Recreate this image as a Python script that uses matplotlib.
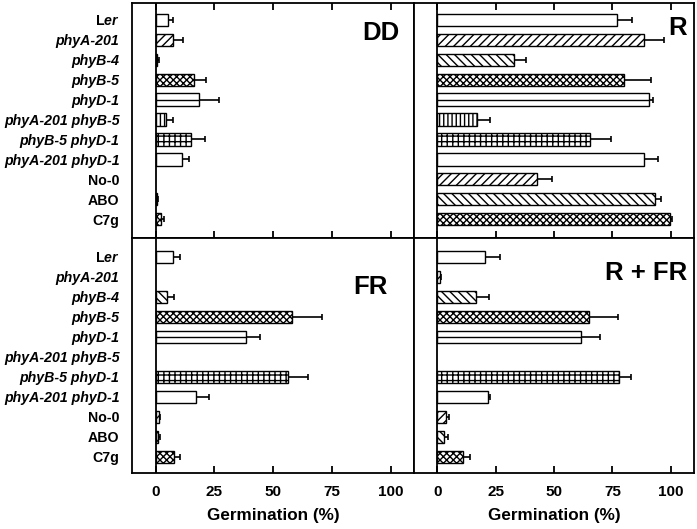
import numpy as np
import matplotlib
matplotlib.use('Agg')
import matplotlib.pyplot as plt

# ----------------------------------------------------------
# Data (germination %)
# ----------------------------------------------------------
genotypes = ['Ler', 'phyA-201', 'phyB-4', 'phyB-5', 'phyD-1',
             'phyA-201 phyB-5', 'phyB-5 phyD-1', 'phyA-201 phyD-1',
             'No-0', 'ABO', 'C7g']

nan = np.nan

dd_mean = [5.5, 7.5, 0.8, 16.5, 18.5, 4.5, 15.0, 11.4, nan, 0.7, 2.5]
dd_err = [2.0, 4.0, 0.6, 5.0, 8.5, 3.0, 6.0, 2.8, nan, 0.5, 1.0]

r_mean = [77.0, 88.5, 32.7, 80.0, 90.5, 17.0, 65.5, 88.5, 42.5, 93.3, 99.5]
r_err = [6.5, 8.5, 5.4, 11.5, 2.0, 5.7, 9.0, 6.0, 6.5, 2.7, 1.0]

fr_mean = [7.5, nan, 5.0, 58.0, 38.5, nan, 56.5, 17.4, 1.4, 1.2, 7.7]
fr_err = [3.0, nan, 3.0, 13.0, 6.0, nan, 8.5, 5.3, 0.7, 0.5, 2.6]

rfr_mean = [20.3, 1.0, 16.5, 65.0, 61.7, nan, 78.0, 21.7, 3.7, 3.0, 11.0]
rfr_err = [6.7, 0.5, 5.5, 12.5, 8.0, nan, 5.0, 1.0, 1.3, 1.4, 2.8]

panel_names = ['DD', 'R', 'FR', 'R + FR']
x_ticks = [0, 25, 50, 75, 100]

# fill pattern per genotype
hatches = ['', '////', '\\\\\\\\', 'xxxxx', '', '||||', '+++', '',
           '////', '\\\\\\\\', 'xxxxx']

# ----------------------------------------------------------
# Style
# ----------------------------------------------------------
plt.rcParams['font.family'] = ['Liberation Sans', 'DejaVu Sans']
plt.rcParams['font.weight'] = 'bold'
plt.rcParams['mathtext.fontset'] = 'custom'
plt.rcParams['mathtext.rm'] = 'Liberation Sans:bold'
plt.rcParams['mathtext.it'] = 'Liberation Sans:italic:bold'
plt.rcParams['hatch.linewidth'] = 1.0
plt.rcParams['hatch.color'] = 'black'

fig = plt.figure(figsize=(6.97, 5.29), dpi=100)

left_x = [0.1894, 0.594]
widths = [0.4046, 0.4017]
bottoms = [0.5501, 0.1059]
height = 0.4442

data = [(dd_mean, dd_err), (r_mean, r_err),
        (fr_mean, fr_err), (rfr_mean, rfr_err)]

letter_pos = [(0.95, 0.872), (0.975, 0.894), (0.908, 0.79), (0.975, 0.85)]

y = np.arange(len(genotypes))

for k, (means, errs) in enumerate(data):
    row, col = divmod(k, 2)
    ax = fig.add_axes([left_x[col], bottoms[row], widths[col], height])

    means = np.array(means, dtype=float)
    errs = np.array(errs, dtype=float)
    ok = ~np.isnan(means)

    for i in y[ok]:
        ax.barh(i, means[i], height=0.62, color='white', edgecolor='black',
                linewidth=1.0, hatch=hatches[i], zorder=2)
        if genotypes[i] == 'phyD-1':
            ax.hlines(i, 0, means[i], color='black', linewidth=1.0, zorder=3)

    ax.errorbar(means[ok], y[ok],
                xerr=[np.zeros(ok.sum()), errs[ok]],
                fmt='none', ecolor='black', elinewidth=1.2,
                capsize=2.5, capthick=1.2, zorder=1)

    ax.axvline(0, color='black', linewidth=1.3, zorder=4)

    ax.set_xlim(-10, 110)
    if row == 0:
        ax.set_ylim(10.95, -0.85)
    else:
        ax.set_ylim(10.8, -0.95)

    for s in ax.spines.values():
        s.set_linewidth(1.3)

    ax.set_xticks(x_ticks)
    ax.tick_params(axis='x', direction='in', length=5, width=1.3,
                   top=(row == 0), bottom=True, labelsize=11, pad=9)
    if row == 0:
        ax.tick_params(axis='x', labelbottom=False)
    else:
        ax.set_xticklabels([str(t) for t in x_ticks], fontweight='bold')
        ax.set_xlabel('Germination (%)', fontsize=12.3, fontweight='bold',
                      labelpad=6)

    ax.set_yticks(y)
    ax.tick_params(axis='y', length=0, pad=9)
    if col == 0:
        labels = [r'L$\mathit{er}$' if g == 'Ler' else g for g in genotypes]
        ax.set_yticklabels(labels, fontsize=10.2, fontweight='bold')
        for lab, g in zip(ax.get_yticklabels(), genotypes):
            if g.startswith('phy'):
                lab.set_fontstyle('italic')
    else:
        ax.set_yticklabels([])

    lx, ly = letter_pos[k]
    ax.text(lx, ly, panel_names[k], transform=ax.transAxes,
            ha='right', va='center', fontsize=18.5, fontweight='bold')

fig.savefig('out.png', dpi=100)
